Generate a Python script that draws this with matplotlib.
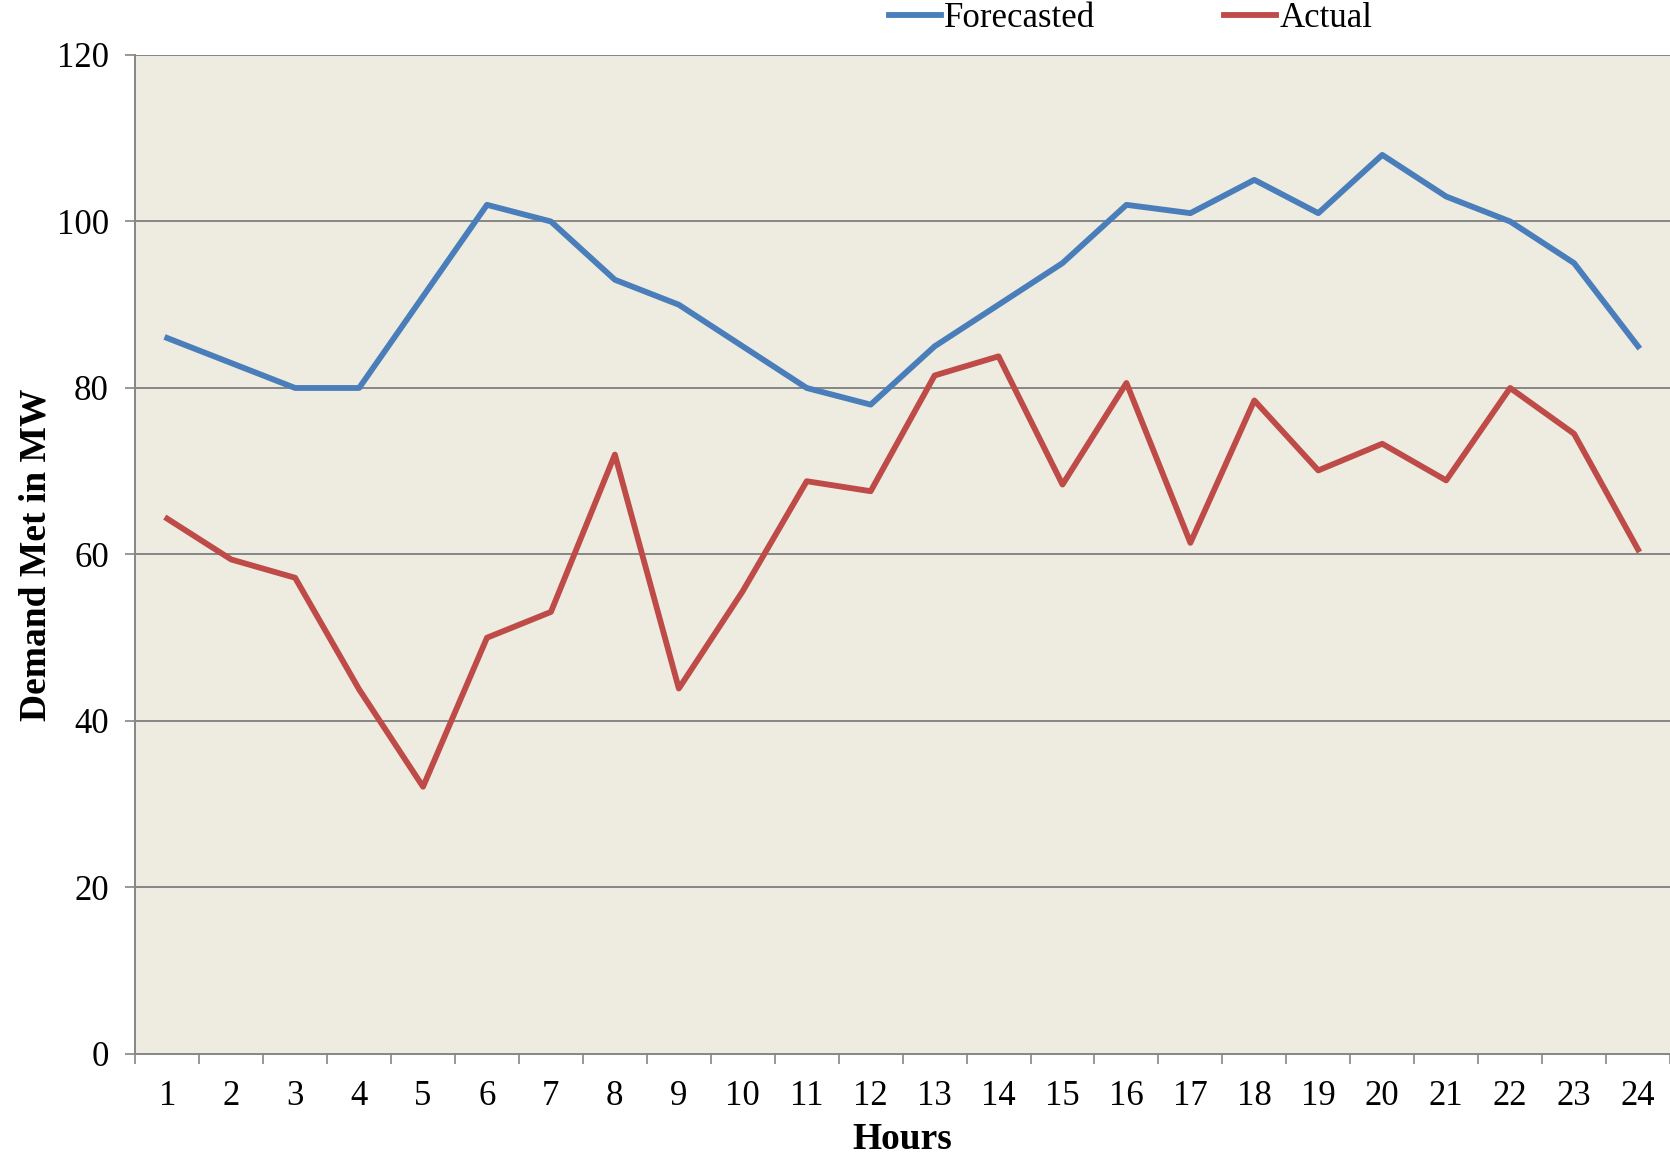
import matplotlib
matplotlib.use("Agg")
import matplotlib.pyplot as plt
import numpy as np

hours = list(range(1, 25))
forecasted = [86, 83, 80, 80, 91, 102, 100, 93, 90, 85, 80, 78,
              85, 90, 95, 102, 101, 105, 101, 108, 103, 100, 95, 85]
actual = [64.3, 59.4, 57.2, 43.8, 32.1, 50.0, 53.1, 72.0, 43.9, 55.6, 68.8, 67.6,
          81.5, 83.8, 68.4, 80.6, 61.4, 78.5, 70.1, 73.3, 68.9, 80.0, 74.5, 60.6]
y_ticks = [0, 20, 40, 60, 80, 100, 120]

plt.rcParams["font.family"] = ["Liberation Serif", "DejaVu Serif"]

fig = plt.figure(figsize=(16.7, 11.6), dpi=100)
ax = fig.add_axes([0.081, 0.0914, 0.919, 0.8612])
ax.set_facecolor("#EEEBE0")

grid_color = "#868686"
ax.set_ylim(0, 120)
ax.set_xlim(0.5, 24.5)
ax.set_yticks(y_ticks)
for v in y_ticks[1:]:
    ax.axhline(v, color=grid_color, linewidth=1.4, zorder=1)

ax.plot(hours, forecasted, color="#4A7EBB", linewidth=4.2, label="Forecasted",
        solid_joinstyle="round", zorder=3)
ax.plot(hours, actual, color="#BE4B48", linewidth=4.2, label="Actual",
        solid_joinstyle="round", zorder=3)

for side in ("top", "right"):
    ax.spines[side].set_visible(False)
for side in ("left", "bottom"):
    ax.spines[side].set_color(grid_color)
    ax.spines[side].set_linewidth(1.4)

ax.set_xticks(hours)
ax.set_xticks(np.arange(0.5, 25, 1.0), minor=True)
ax.tick_params(axis="x", which="major", length=0, pad=19, labelsize=25)
ax.tick_params(axis="x", which="minor", length=7, width=1.2, color=grid_color,
               direction="out")
ax.tick_params(axis="y", which="major", length=7, width=1.2, color=grid_color,
               pad=12, labelsize=25)

ax.set_xlabel("Hours", fontsize=27, fontweight="bold")
ax.xaxis.set_label_coords(0.5, -0.068)
ax.set_ylabel("Demand Met in MW", fontsize=27, fontweight="bold")
ax.yaxis.set_label_coords(-0.053, 0.5)

fig.legend(loc="center", bbox_to_anchor=(0.677, 0.984), ncol=2,
           frameon=False, fontsize=25, handlelength=1.5, handletextpad=0.1,
           columnspacing=3.7)

fig.savefig("out.png", dpi=100)
